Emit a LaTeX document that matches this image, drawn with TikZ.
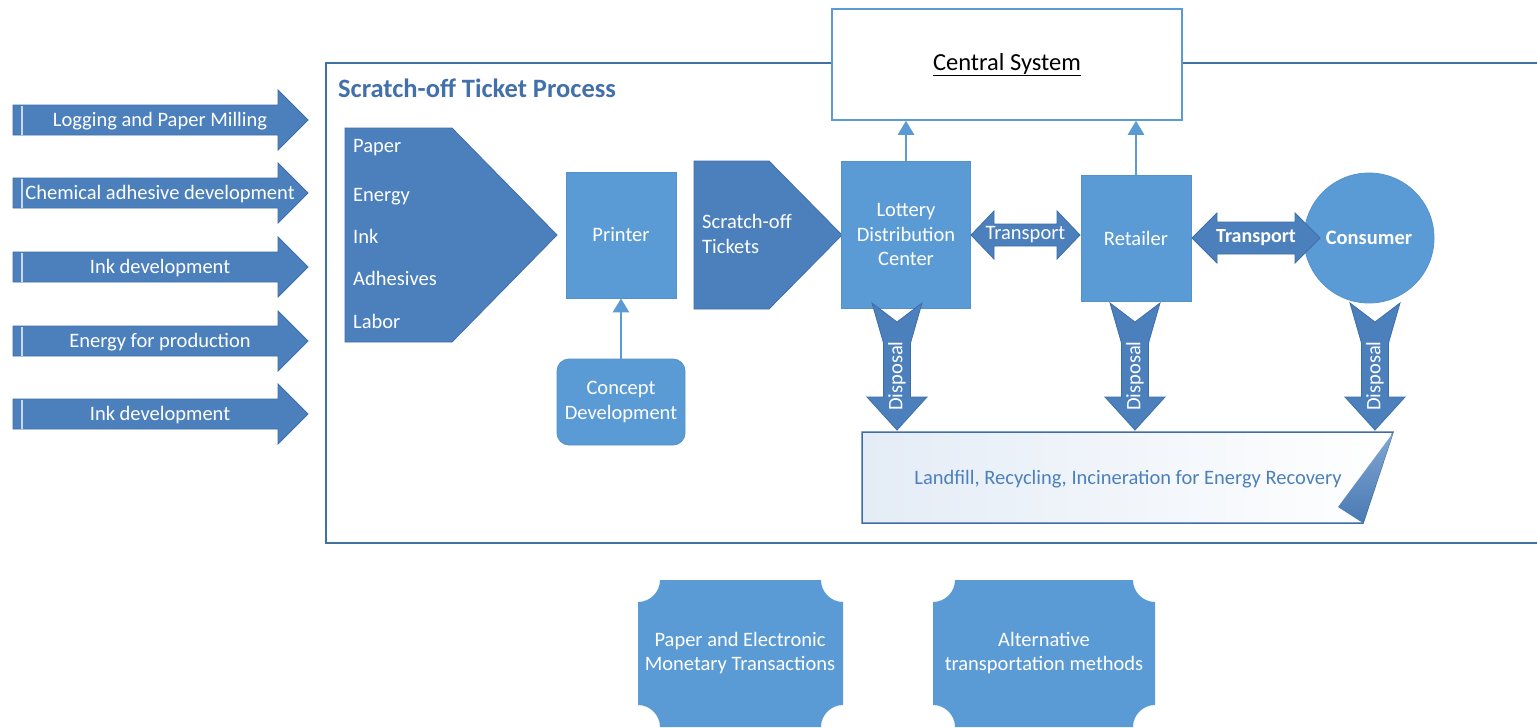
\documentclass[tikz,border=0pt]{standalone}
\usepackage{fontspec}
\setmainfont{Carlito}
\usetikzlibrary{arrows.meta}
\definecolor{dkblue}{RGB}{76,128,189}
\definecolor{dkedge}{RGB}{62,110,168}
\definecolor{ltblue}{RGB}{91,155,213}
\definecolor{ltedge}{RGB}{84,146,204}
\definecolor{frameblue}{RGB}{65,113,160}
\definecolor{titleblue}{RGB}{66,112,170}
\definecolor{paleblue}{RGB}{228,236,246}
\tikzset{
  dk/.style={fill=dkblue, draw=dkedge, line width=0.8pt},
  lt/.style={fill=ltblue, draw=ltedge, line width=0.8pt},
  wtxt/.style={text=white, font=\fontsize{20.5}{24.5}\selectfont, inner sep=0pt, align=center},
  conn/.style={draw=ltblue, line width=2.6pt, -{Triangle[length=14pt,width=16pt]}},
}
\newcommand\leftarrowshape[3]{%
  \path[dk] (13,#1-15) -- (278,#1-15) -- (278,#1-30) -- (308,#1) -- (278,#1+30) -- (278,#1+15) -- (13,#1+15) -- cycle;
  \draw[white!70!dkblue, line width=1.2pt] (22,#1-14.5) -- (22,#1+14.5);
  \node[wtxt] (#2) at (160,#1+1.5) {#3};
}
\newcommand\disparrowshape[2]{%
  \path[dk] (#1-25,303) -- (#1,322) -- (#1+25,303) -- (#1+13.5,343) -- (#1+13.5,397) -- (#1+30,397) -- (#1,430) -- (#1-30,397) -- (#1-13.5,397) -- (#1-13.5,343) -- cycle;
  \node[wtxt, rotate=90] (#2) at (#1,376) {Disposal};
}
\newcommand\plaqueshape[4]{%
  \path[lt, draw=none] (#1+22,#2) -- (#3-22,#2) .. controls (#3-22,#2+12) and (#3-12,#2+22) .. (#3,#2+22)
    -- (#3,#4-22) .. controls (#3-12,#4-22) and (#3-22,#4-12) .. (#3-22,#4)
    -- (#1+22,#4) .. controls (#1+22,#4-12) and (#1+12,#4-22) .. (#1,#4-22)
    -- (#1,#2+22) .. controls (#1+12,#2+22) and (#1+22,#2+12) .. (#1+22,#2) -- cycle;
}
\begin{document}
\begin{tikzpicture}[x=1pt,y=-1pt]
\useasboundingbox (0,0) rectangle (1537,728);
\fill[white] (0,0) rectangle (1537,728);

% left input arrows
\leftarrowshape{120}{a1}{Logging and Paper Milling}
\leftarrowshape{193}{a2}{Chemical adhesive development}
\leftarrowshape{267}{a3}{Ink development}
\leftarrowshape{341}{a4}{Energy for production}
\leftarrowshape{414}{a5}{Ink development}

% frame
\draw[frameblue, line width=1.6pt] (1540,63) -- (326,63) -- (326,543) -- (1540,543);
\node[anchor=west, inner sep=0pt, text=titleblue, font=\bfseries\fontsize{26.5}{30}\selectfont] (title) at (338,88) {Scratch-off Ticket Process};

% central system
\node[draw=ltblue, line width=1.5pt, fill=white, minimum width=350pt, minimum height=111pt, inner sep=0pt,
      font=\fontsize{24.5}{28}\selectfont] (cs) at (1007,64.5) {\underline{Central System}\vphantom{y}};

% inputs pentagon
\path[dk] (345,128) -- (452,128) -- (557,235) -- (452,342) -- (345,342) -- cycle;
\node[wtxt, anchor=west] (in1) at (353,148) {Paper};
\node[wtxt, anchor=west] (in2) at (353,197) {Energy};
\node[wtxt, anchor=west] (in3) at (353,236) {Ink};
\node[wtxt, anchor=west] (in4) at (353,278) {Adhesives};
\node[wtxt, anchor=west] (in5) at (353,321) {Labor};

% printer and concept
\node[lt, minimum width=110pt, minimum height=126pt, wtxt] (pr) at (621,235) {Printer};
\node[lt, rounded corners=12pt, minimum width=128pt, minimum height=86pt, wtxt] (cd) at (621,402) {Concept\\Development};
\draw[conn] (cd.north) -- (pr.south);

% scratch-off tickets pentagon
\path[dk] (694,161) -- (769,161) -- (842,235) -- (769,309) -- (694,309) -- cycle;
\node[wtxt, anchor=west, align=left] (sot) at (702,234) {Scratch-off\\Tickets};

% lottery distribution center
\node[lt, minimum width=129pt, minimum height=147pt, wtxt] (ldc) at (906,234.5) {Lottery\\Distribution\\Center};
% retailer
\node[lt, minimum width=110pt, minimum height=126pt, wtxt] (ret) at (1136,238) {Retailer};
% consumer
\node[lt, circle, minimum size=130pt, wtxt, font=\bfseries\fontsize{20.5}{24}\selectfont] (con) at (1369,238) {Consumer};

\draw[conn] (ldc.north) -- (ldc.north |- cs.south);
\draw[conn] (ret.north) -- (ret.north |- cs.south);

% transport arrows
\path[dk] (971,235) -- (994,211) -- (994,224) -- (1057,224) -- (1057,211) -- (1080,235) -- (1057,259) -- (1057,246) -- (994,246) -- (994,259) -- cycle;
\node[wtxt] (tr1) at (1025.5,235) {Transport};
\path[dk] (1192,238) -- (1217,213) -- (1217,222) -- (1295,222) -- (1295,213) -- (1320,238) -- (1295,263) -- (1295,254) -- (1217,254) -- (1217,263) -- cycle;
\node[wtxt, font=\bfseries\fontsize{20}{24}\selectfont] (tr2) at (1256,238) {Transport};

% landfill box
\path[draw=dkedge, line width=1.5pt, left color=paleblue, right color=white] (862,432) -- (1393,432) -- (1363,523) -- (862,523) -- cycle;
\path[top color=dkblue!70, bottom color=dkblue!95!black] (1393,433) -- (1338,507) -- (1363,523) -- cycle;
\node[inner sep=0pt, text=dkblue, font=\fontsize{20.5}{24}\selectfont] (lf) at (1128,479) {Landfill, Recycling, Incineration for Energy Recovery};

% disposal arrows
\disparrowshape{897}{d1}
\disparrowshape{1135}{d2}
\disparrowshape{1375}{d3}

% bottom plaques
\plaqueshape{638}{580}{843}{727}
\node[wtxt] (pm) at (740,653) {Paper and Electronic\\Monetary Transactions};
\plaqueshape{933}{580}{1155}{727}
\node[wtxt] (atm) at (1044,653) {Alternative\\transportation methods};
\end{tikzpicture}
\end{document}
